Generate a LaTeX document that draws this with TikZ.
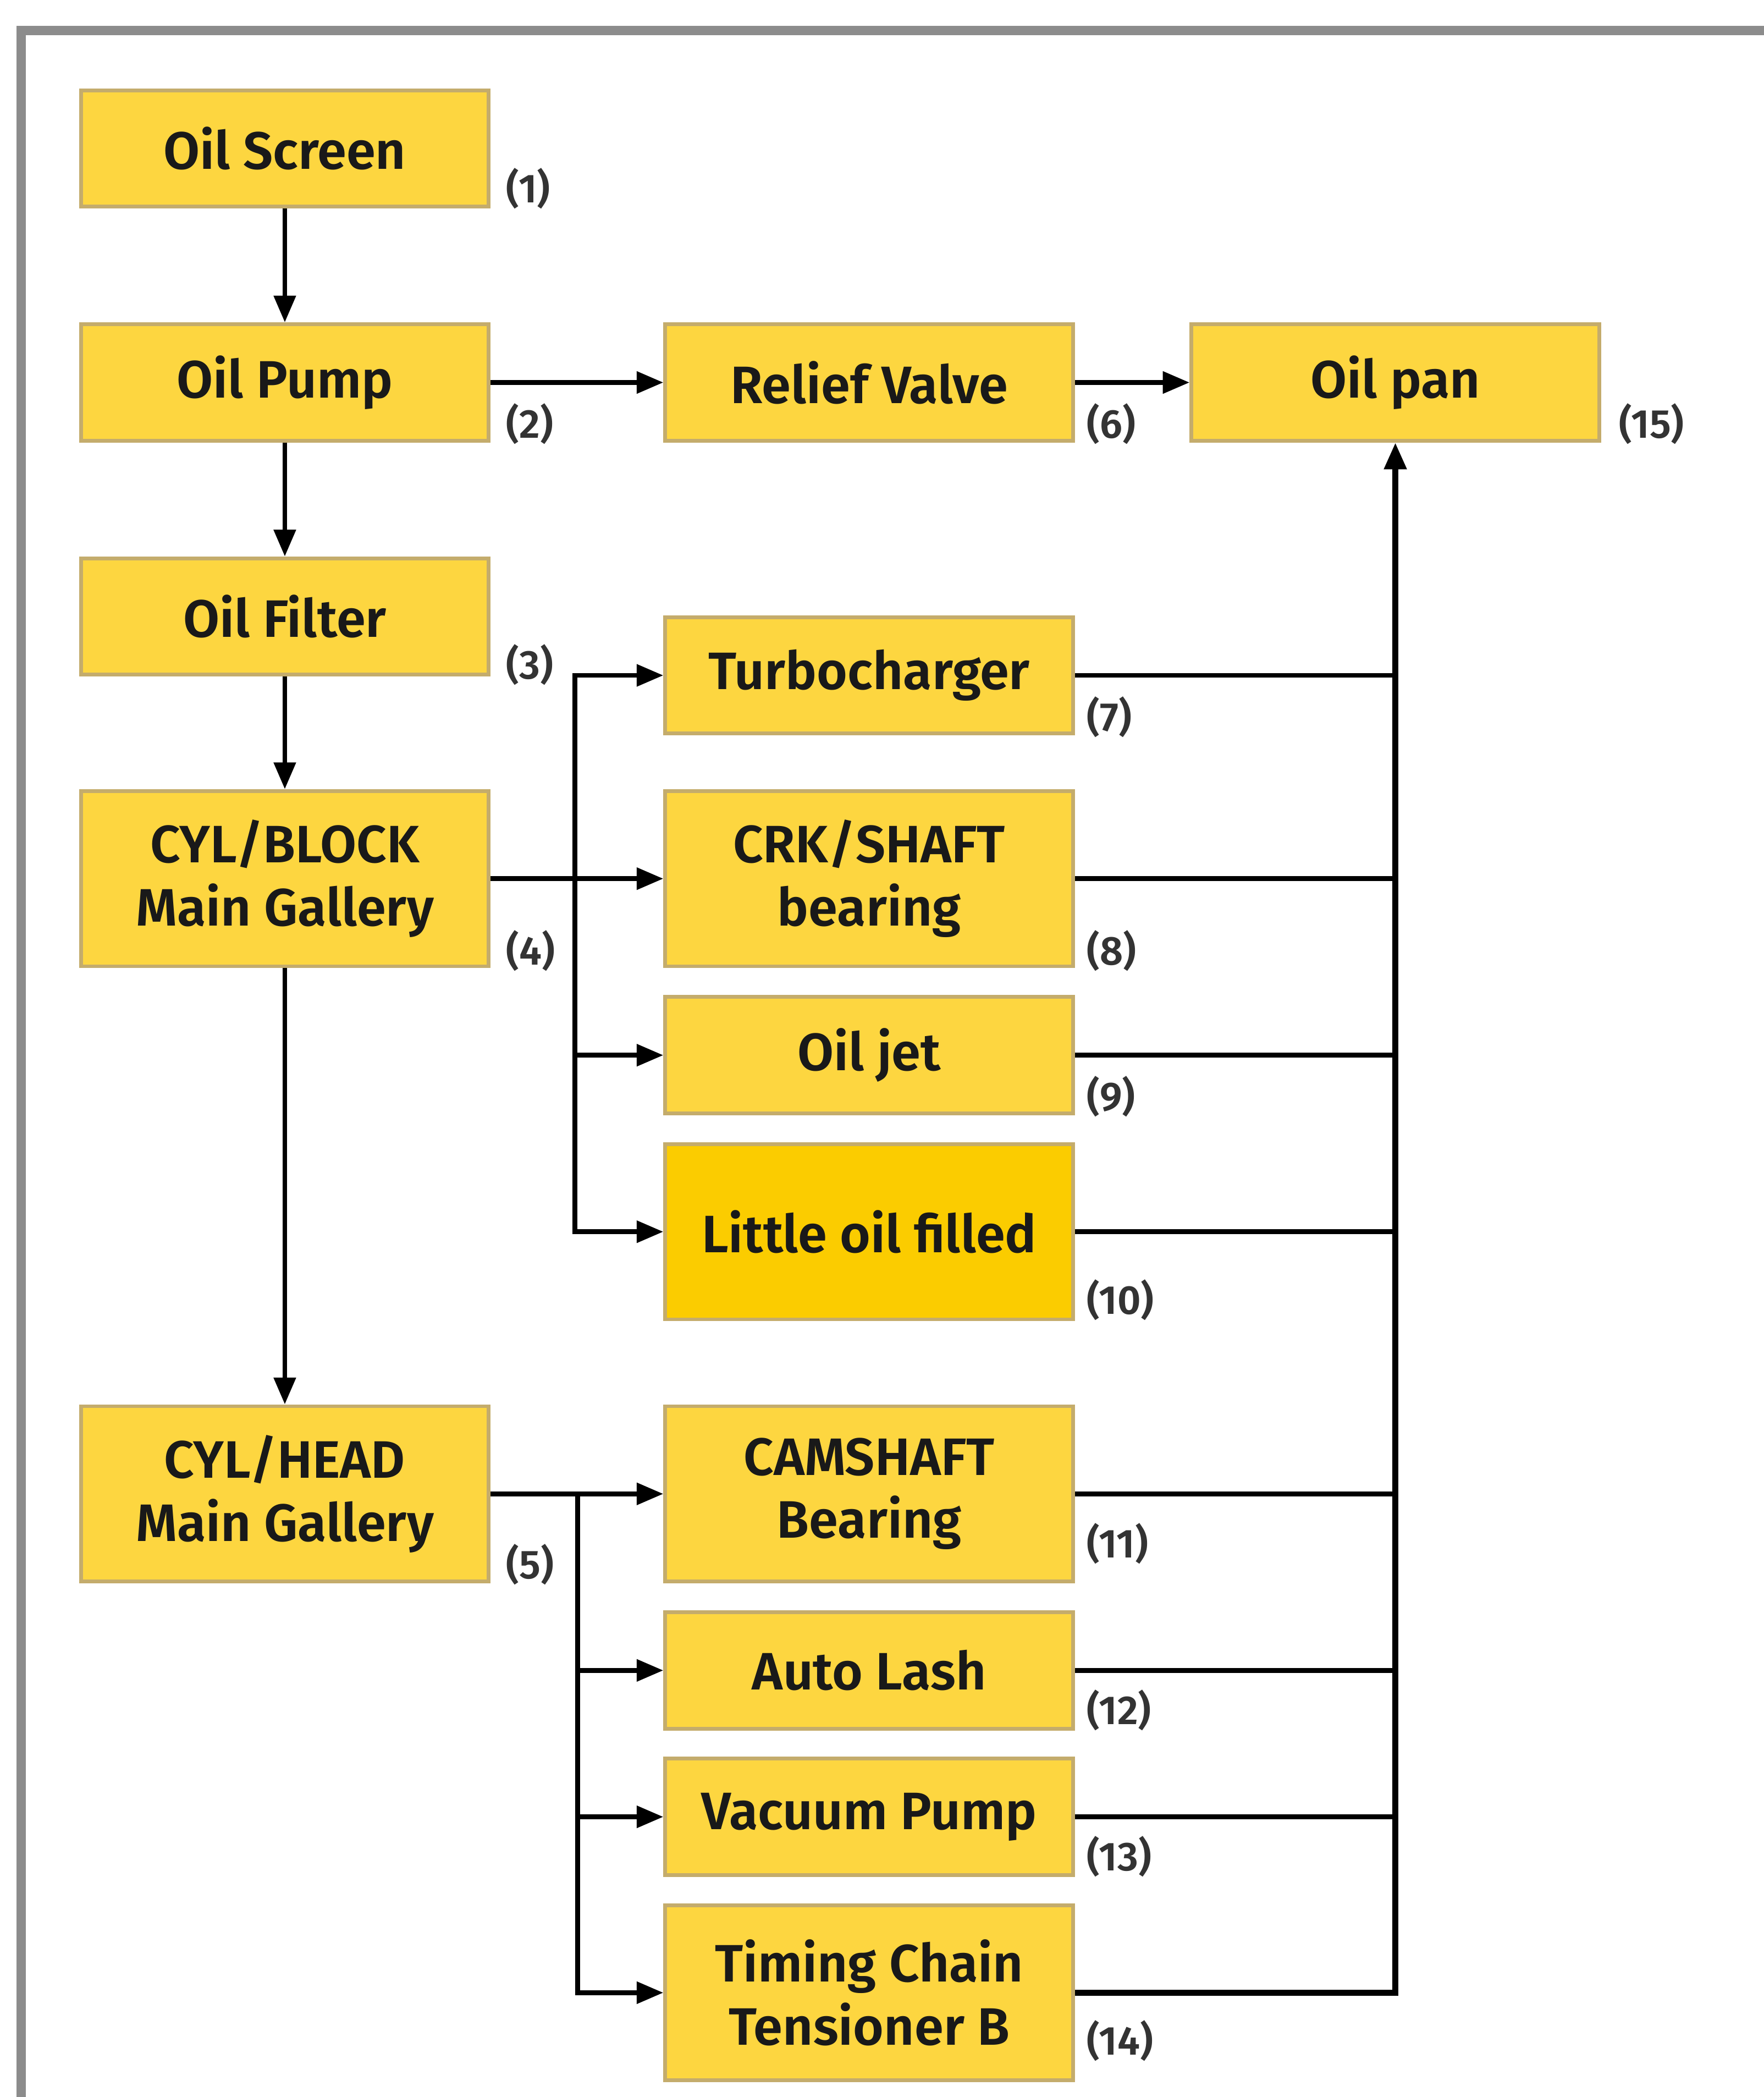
\documentclass[tikz,border=0pt]{standalone}
\usepackage{fontspec}
\setmainfont{Fira Sans}[BoldFont={Fira Sans SemiBold}]
\usetikzlibrary{arrows.meta}
\definecolor{boxyellow}{RGB}{253,214,64}
\definecolor{deepyellow}{RGB}{251,204,0}
\definecolor{boxedge}{RGB}{196,172,108}
\definecolor{framegray}{RGB}{140,140,140}
\begin{document}
\begin{tikzpicture}[
  part/.style={draw=boxedge,line width=0.8pt,fill=boxyellow,minimum width=3.05cm,minimum height=0.87cm,align=center,text=black!90,font=\fontsize{11.2}{13.4}\selectfont\bfseries},
  tallpart/.style={part,minimum height=1.31cm},
  num/.style={anchor=west,inner sep=0pt,text=black!80,font=\fontsize{8.6}{9}\selectfont\bfseries},
  flow/.style={-{Triangle[length=0.2cm,width=0.16cm]},line width=1pt},
  ret/.style={line width=1pt}]
\useasboundingbox (0,0) rectangle (13.19,-15.68);
\draw[framegray,line width=2pt] (0.16,-15.68) -- (0.16,-0.23) -- (13.19,-0.23);
% left column
\node[part] (screen) at (2.13,-1.11) {Oil Screen};
\node[part] (pump) at (2.13,-2.86) {Oil Pump};
\node[part] (filter) at (2.13,-4.61) {Oil Filter};
\node[tallpart] (block) at (2.13,-6.57) {CYL/BLOCK\\Main Gallery};
\node[tallpart] (head) at (2.13,-11.17) {CYL/HEAD\\Main Gallery};
% middle column
\node[part] (relief) at (6.50,-2.86) {Relief Valve};
\node[part] (turbo) at (6.50,-5.05) {Turbocharger};
\node[tallpart] (crank) at (6.50,-6.57) {CRK/SHAFT\\bearing};
\node[part] (jet) at (6.50,-7.89) {Oil jet};
\node[tallpart,fill=deepyellow] (little) at (6.50,-9.21) {Little oil filled};
\node[tallpart] (cam) at (6.50,-11.17) {CAMSHAFT\\Bearing};
\node[part] (lash) at (6.50,-12.49) {Auto Lash};
\node[part] (vacuum) at (6.50,-13.585) {Vacuum Pump};
\node[tallpart] (chain) at (6.50,-14.90) {Timing Chain\\Tensioner B};
% sump
\node[part] (pan) at (10.435,-2.86) {Oil pan};
% numbers
\node[num] (n1) at (3.78,-1.41) {(1)};
\node[num] (n2) at (3.78,-3.17) {(2)};
\node[num] (n3) at (3.78,-4.97) {(3)};
\node[num] (n4) at (3.78,-7.11) {(4)};
\node[num] (n5) at (3.78,-11.70) {(5)};
\node[num] (n6) at (8.12,-3.17) {(6)};
\node[num] (n7) at (8.12,-5.36) {(7)};
\node[num] (n8) at (8.12,-7.11) {(8)};
\node[num] (n9) at (8.12,-8.20) {(9)};
\node[num] (n10) at (8.12,-9.72) {(10)};
\node[num] (n11) at (8.12,-11.54) {(11)};
\node[num] (n12) at (8.12,-12.79) {(12)};
\node[num] (n13) at (8.12,-13.88) {(13)};
\node[num] (n14) at (8.12,-15.26) {(14)};
\node[num] (n15) at (12.10,-3.17) {(15)};
% main path
\draw[flow] (screen) -- (pump);
\draw[flow] (pump) -- (filter);
\draw[flow] (filter) -- (block);
\draw[flow] (block) -- (head);
\draw[flow] (pump) -- (relief);
\draw[flow] (relief) -- (pan);
% block gallery branches
\coordinate (fork1) at (4.30,-6.57);
\draw[flow] (block) -- (crank);
\draw[flow] (fork1) |- (turbo);
\draw[flow] (fork1) |- (jet);
\draw[flow] (fork1) |- (little);
% head gallery branches
\coordinate (fork2) at (4.32,-11.17);
\draw[flow] (head) -- (cam);
\draw[flow] (fork2) |- (lash);
\draw[flow] (fork2) |- (vacuum);
\draw[flow] (fork2) |- (chain);
% return to pan
\draw[flow,line width=1.3pt] (chain) -| (pan);
\foreach \p in {turbo,crank,jet,little,cam,lash,vacuum}
  \draw[ret] (\p) -- (\p -| pan);
\end{tikzpicture}
\end{document}
